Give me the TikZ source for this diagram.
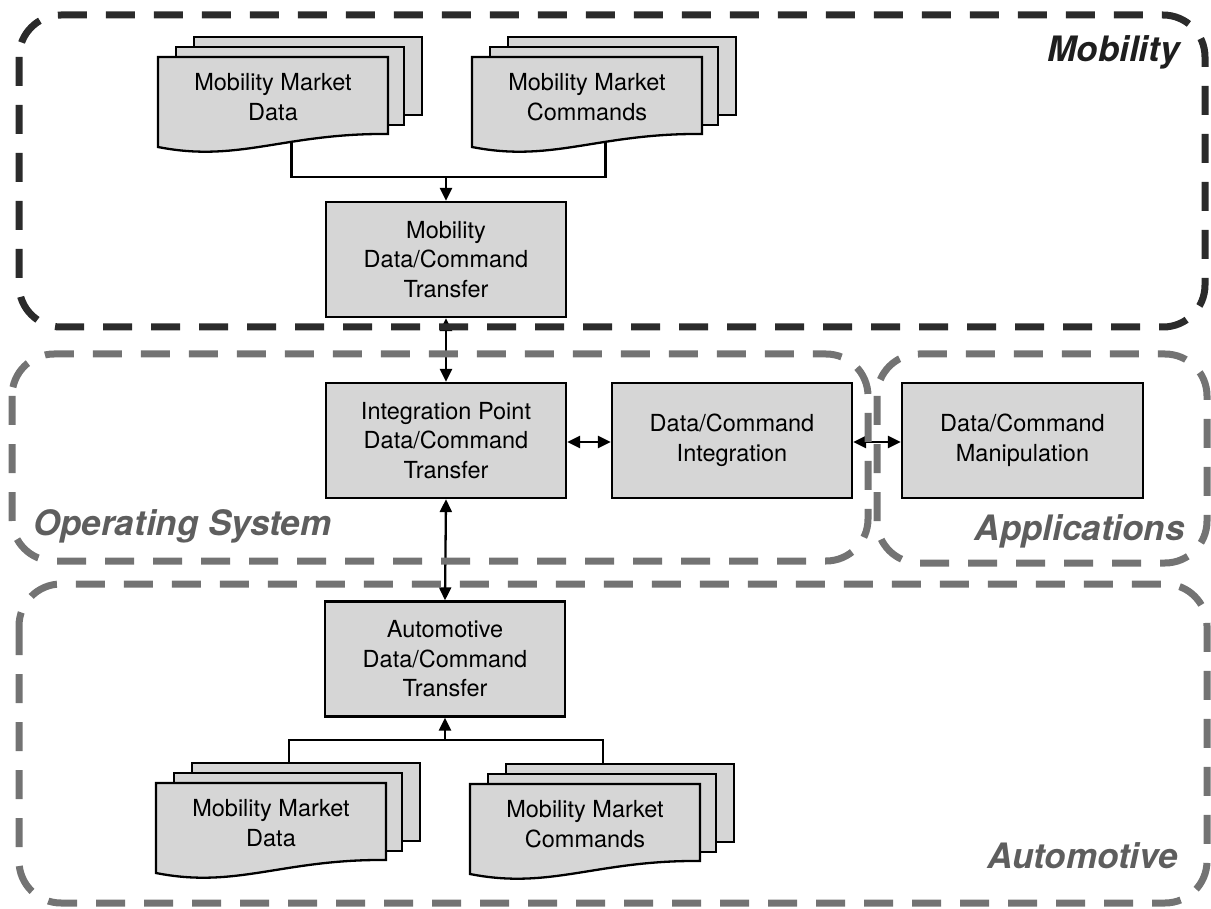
\documentclass[tikz,border=0pt]{standalone}
\usepackage{fontspec}
\setmainfont{TeX Gyre Heros}
\usetikzlibrary{arrows.meta}
\pgfdeclarelayer{back}
\pgfsetlayers{back,main}

\definecolor{boxfill}{HTML}{D6D6D6}
\definecolor{zonedark}{HTML}{2B2B2B}
\definecolor{zonegray}{HTML}{737373}
\definecolor{labeldark}{HTML}{1E1E1E}
\definecolor{labelgray}{HTML}{5E5E5E}

\tikzset{
  procbox/.style={draw=black, line width=2.3pt, fill=boxfill,
    minimum width=240pt, minimum height=115pt, inner sep=0pt,
    align=center, font=\fontsize{23.5}{29.5}\selectfont},
  docline/.style={draw=black, line width=2.3pt, fill=boxfill},
  doctext/.style={align=center, inner sep=0pt,
    font=\fontsize{23.5}{29.5}\selectfont},
  conn/.style={line width=2.3pt, draw=black},
  onearrow/.style={-{Triangle[length=13pt,width=12pt]}},
  twoarrow/.style={{Triangle[length=13pt,width=12pt]}-{Triangle[length=13pt,width=12pt]}},
  zone/.style={line width=7pt, dash pattern=on 29pt off 19pt, rounded corners=42pt},
  zonelabel/.style={font=\fontsize{35}{40}\selectfont\bfseries\itshape, inner sep=0pt},
}

% stack of three documents: #1 name, #2 left, #3 top of front sheet, #4 text
\newcommand\docstack[4]{%
  \draw[docline] (#2+36,#3-20) rectangle (#2+264,#3+58);
  \draw[docline] (#2+18,#3-10) rectangle (#2+246,#3+68);
  \draw[docline] (#2,#3) -- (#2+230,#3) -- (#2+230,#3+77)
    .. controls (#2+126.5,#3+76) and (#2+80.5,#3+106) .. (#2,#3+90) -- cycle;
  \node[doctext] (#1) at (#2+115,#3+40) {#4};
  \coordinate (#1-top) at (#2+133,#3-20);
  \coordinate (#1-bot) at (#2+133.5,#3+80);
}

\begin{document}
\begin{tikzpicture}[x=1pt,y=-1pt]
\useasboundingbox (0,0) rectangle (1211,909);

% processing boxes
\node[procbox] (mtrans) at (446,259.5) {Mobility\\Data/Command\\Transfer};
\node[procbox] (ipoint) at (446,440.5) {Integration Point\\Data/Command\\Transfer};
\node[procbox] (dcint)  at (732,440.5) {Data/Command\\Integration};
\node[procbox, minimum width=241pt] (dcman) at (1022.5,440.5) {Data/Command\\Manipulation};
\node[procbox] (atrans) at (445,659) {Automotive\\Data/Command\\Transfer};

% document stacks
\docstack{mdata}{158}{57}{Mobility Market\\Data}
\docstack{mcmd}{472}{57}{Mobility Market\\Commands}
\docstack{adata}{156}{783}{Mobility Market\\Data}
\docstack{acmd}{470}{784}{Mobility Market\\Commands}

\coordinate (mjoin) at (446,177);
\coordinate (ajoin) at (445,740);

% connectors
\begin{pgfonlayer}{back}
  \draw[conn] (mdata-bot) |- (mjoin);
  \draw[conn] (mcmd-bot) |- (mjoin);
  \draw[conn] (adata-top) |- (ajoin);
  \draw[conn] (acmd-top) |- (ajoin);
\end{pgfonlayer}
\draw[conn, onearrow] (mjoin) -- (mtrans.north);
\draw[conn, onearrow] (ajoin) -- (atrans.south);
\draw[conn, twoarrow] (mtrans.south) -- (ipoint.north);
\draw[conn, twoarrow] (ipoint.south) -- (atrans.north);
\draw[conn, twoarrow] ([yshift=-1.5pt]ipoint.east) -- ([yshift=-1.5pt]dcint.west);
\draw[conn, twoarrow] ([yshift=-1.5pt]dcint.east) -- ([yshift=-1.5pt]dcman.west);

% dashed zones
\draw[zone, draw=zonedark] (19,15) rectangle (1205,327);
\draw[zone, draw=zonegray] (12,354) rectangle (868,561);
\draw[zone, draw=zonegray] (877,354) rectangle (1207,563);
\draw[zone, draw=zonegray] (19,584) rectangle (1207,903);

% zone labels
\node[zonelabel, text=labeldark, anchor=base east] (lmob) at (1180,62) {Mobility};
\node[zonelabel, text=labelgray, anchor=base west] (los) at (33,535) {Operating System};
\node[zonelabel, text=labelgray, anchor=base east] (lapp) at (1185,540) {Applications};
\node[zonelabel, text=labelgray, anchor=base east] (laut) at (1178,868) {Automotive};
\end{tikzpicture}
\end{document}
